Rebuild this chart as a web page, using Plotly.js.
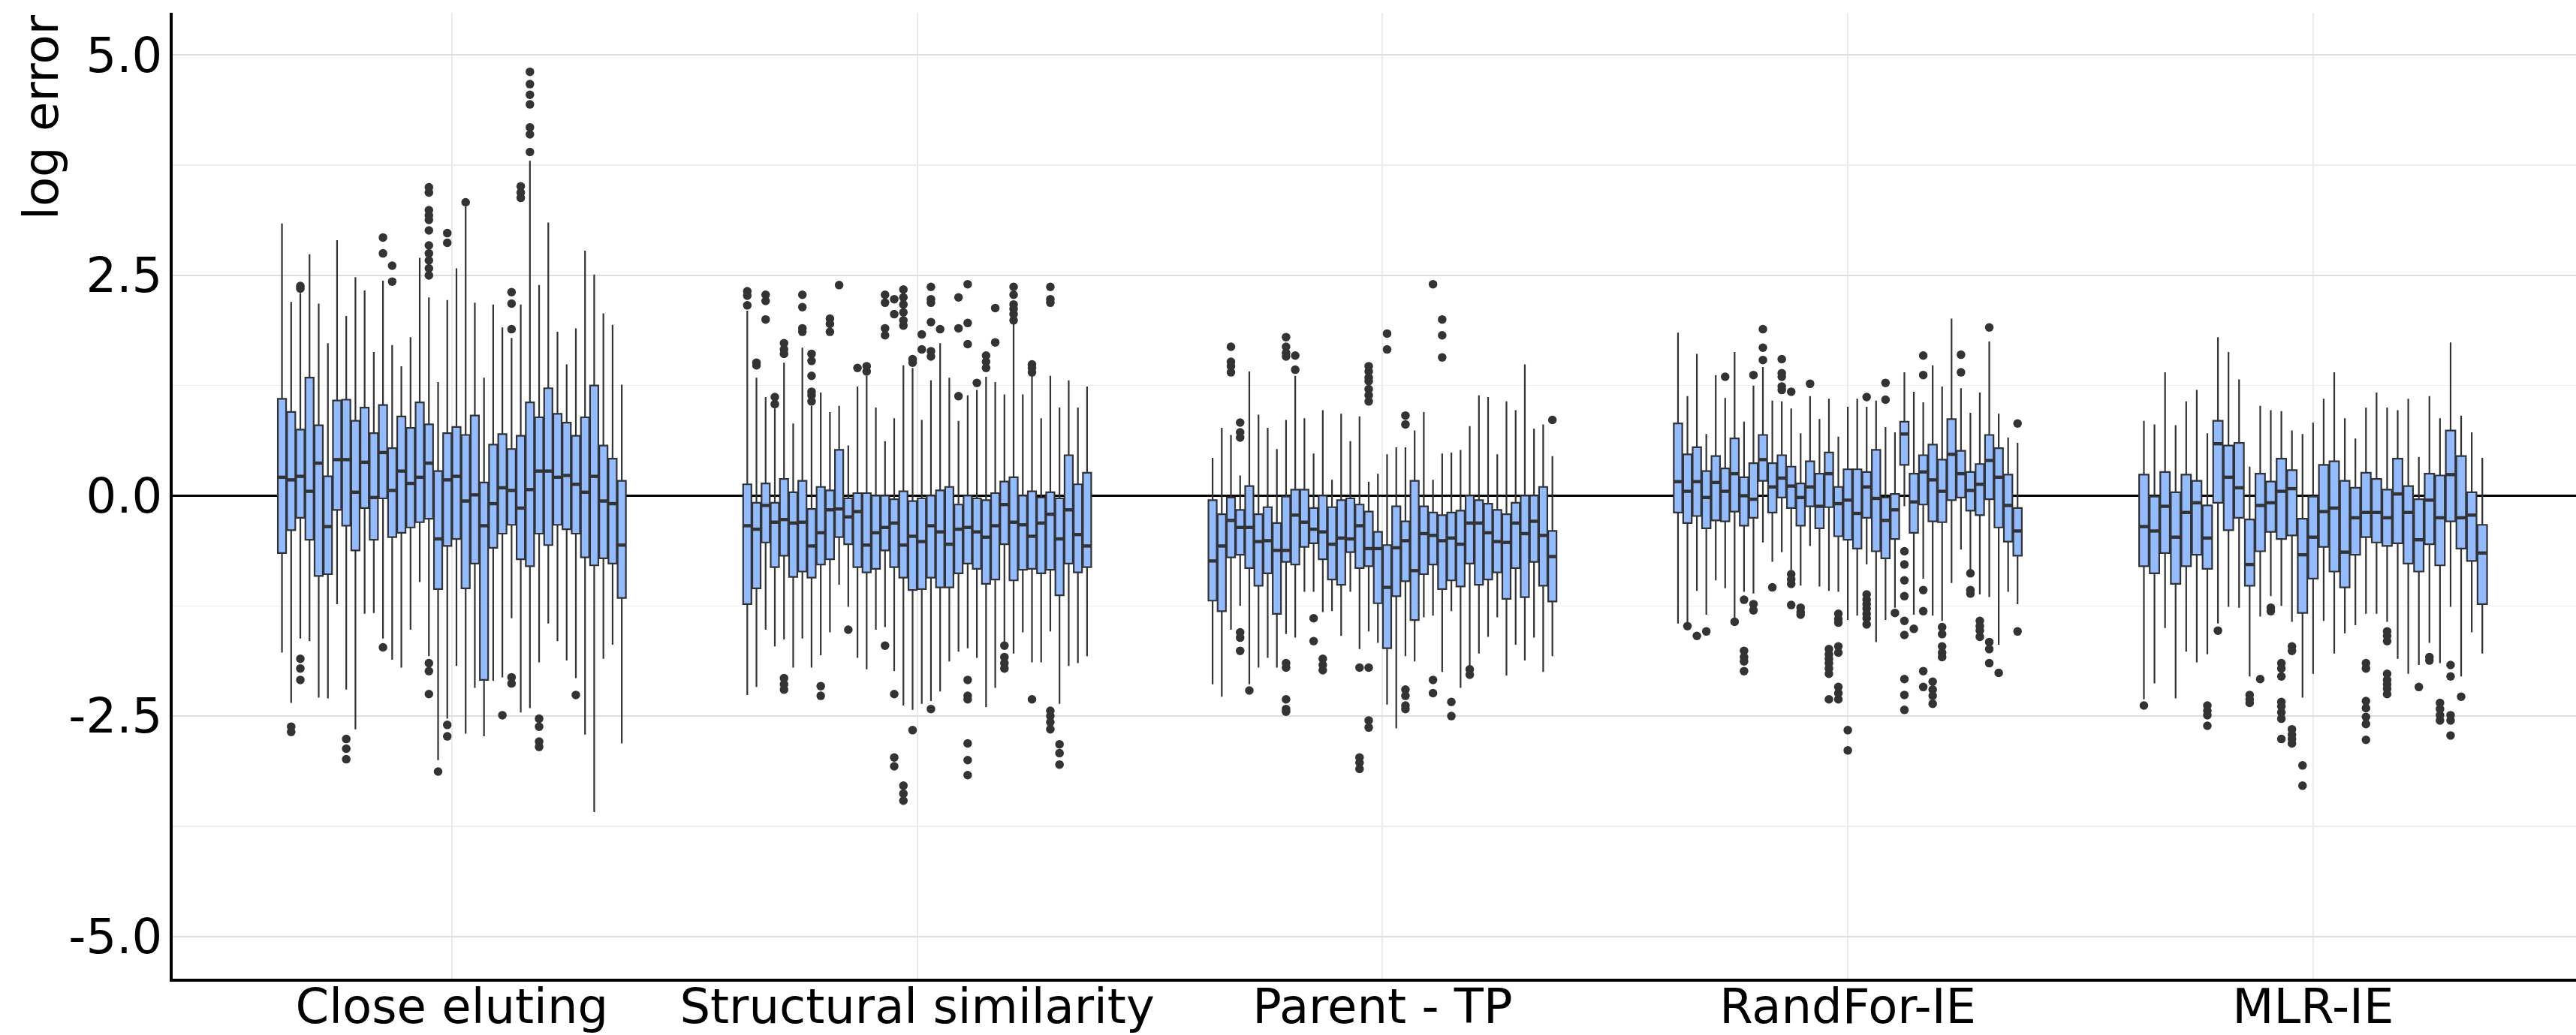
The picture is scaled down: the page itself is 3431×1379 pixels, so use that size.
<!DOCTYPE html>
<html>
<head>
<meta charset="utf-8">
<script src="https://cdn.plot.ly/plotly-3.0.1.min.js"></script>
<style>
  html, body { margin: 0; padding: 0; background: #ffffff; }
  #chart { width: 3431px; height: 1379px; }
</style>
</head>
<body>
<div id="chart"></div>
<script>
// ---------- DATA ----------
const categories = ["Close eluting", "Structural similarity", "Parent - TP", "RandFor-IE", "MLR-IE"];
const yTickValues = [-5, -2.5, 0, 2.5, 5];
const yTickLabels = ["-5.0", "-2.5", "0.0", "2.5", "5.0"];

// Close eluting (38 boxes)
const closeUpper  = [3.09,2.20,2.30,2.74,2.18,1.73,2.90,2.04,2.48,2.33,1.63,2.44,1.71,1.47,1.80,2.70,2.25,1.29,2.22,2.58,3.28,2.19,1.34,2.17,1.91,1.79,2.17,3.80,2.39,3.10,1.86,1.49,1.90,2.78,2.51,2.07,1.94,1.26];
const closeQ3     = [1.10,0.95,0.75,1.34,0.80,0.22,1.08,1.09,0.85,1.00,0.71,1.03,0.54,0.90,0.77,1.06,0.81,0.28,0.71,0.78,0.69,0.91,0.15,0.58,0.70,0.53,0.68,1.06,0.89,1.22,0.93,0.83,0.68,0.89,1.25,0.57,0.42,0.17];
const closeMedian = [0.21,0.18,0.22,0.05,0.37,-0.35,0.41,0.41,0.04,0.38,-0.02,0.49,0.06,0.28,0.14,0.21,0.37,-0.49,0.18,0.22,-0.06,0.01,-0.34,-0.09,0.09,0.06,-0.14,0.07,0.28,0.28,0.21,0.23,0.13,0.04,0.22,-0.06,-0.09,-0.56];
const closeQ1     = [-0.65,-0.39,-0.25,-0.50,-0.91,-0.89,-0.16,-0.34,-0.62,-0.14,-0.50,-0.03,-0.47,-0.42,-0.36,-0.30,-0.26,-1.06,-0.57,-0.49,-1.05,-0.77,-2.09,-0.59,-0.43,-0.33,-0.72,-0.80,-0.43,-0.56,-0.33,-0.38,-0.43,-0.70,-0.79,-0.71,-0.77,-1.16];
const closeLower  = [-1.78,-2.35,-1.62,-1.65,-2.29,-2.30,-1.23,-2.20,-2.65,-1.34,-1.33,-1.62,-1.86,-1.95,-1.52,-0.98,-1.82,-3.00,-2.53,-1.93,-2.70,-2.18,-2.73,-2.10,-2.06,-1.39,-2.46,-2.41,-1.89,-1.45,-1.65,-1.87,-2.07,-2.71,-3.59,-1.85,-1.69,-2.81];
const closeOutliers = [
  [], [-2.62,-2.68], [2.35,2.38,-1.85,-1.96,-2.09], [], [], [], [], [-2.76,-2.87,-2.99], [], [],
  [], [2.93,2.75,-1.72], [2.61,2.43], [], [], [],
  [3.50,3.44,3.24,3.18,3.13,3.01,2.84,2.75,2.67,2.58,2.50,-1.90,-1.99,-2.25],
  [-3.13], [2.98,2.87,-2.60,-2.73], [], [3.33], [], [], [], [-2.49], [2.31,2.18,1.89,-2.06,-2.13],
  [3.51,3.44,3.38], [4.81,4.67,4.55,4.44,4.18,4.10,3.90], [-2.53,-2.62,-2.79,-2.85], [], [], [], [-2.26], [], [], [], [], []
];

// Structural similarity (38 boxes)
const structUpper  = [2.10,1.34,1.12,0.99,1.51,0.82,1.68,1.02,1.17,0.95,1.02,0.57,1.24,1.36,1.00,0.62,0.88,1.48,1.45,0.86,1.31,1.73,1.34,0.85,1.14,1.20,1.35,1.29,1.15,1.95,1.15,1.37,0.88,1.36,1.00,1.31,1.00,1.24];
const structQ3     = [0.13,-0.08,0.14,-0.08,0.19,0.04,0.17,-0.15,0.10,0.06,0.52,-0.03,0.03,0.03,0.00,0.00,-0.04,0.05,-0.06,-0.03,0.00,0.06,0.10,-0.10,0.00,-0.03,-0.05,0.03,0.16,0.21,0.00,0.05,-0.02,0.04,-0.03,0.46,0.13,0.26];
const structMedian = [-0.34,-0.38,-0.11,-0.30,-0.27,-0.31,-0.30,-0.57,-0.42,-0.16,-0.15,-0.24,-0.18,-0.56,-0.42,-0.36,-0.31,-0.56,-0.46,-0.52,-0.34,-0.41,-0.55,-0.38,-0.36,-0.41,-0.47,-0.34,-0.10,-0.30,-0.33,-0.46,-0.31,-0.21,-0.49,-0.16,-0.44,-0.57];
const structQ1     = [-1.23,-1.05,-0.53,-0.81,-0.68,-0.92,-0.86,-0.93,-0.78,-0.72,-0.47,-0.55,-0.81,-0.87,-0.83,-0.62,-0.81,-0.93,-1.07,-1.06,-0.93,-1.04,-1.04,-0.88,-0.77,-0.83,-1.00,-0.95,-0.55,-0.96,-0.84,-0.83,-0.88,-0.84,-1.13,-0.77,-0.87,-0.81];
const structLower  = [-2.26,-2.17,-1.52,-1.71,-1.63,-1.95,-1.62,-1.95,-1.81,-1.55,-1.01,-1.26,-1.84,-1.97,-1.52,-1.49,-1.99,-2.38,-2.43,-2.36,-2.33,-2.22,-1.88,-1.77,-1.73,-1.84,-2.40,-2.18,-1.67,-1.79,-1.55,-1.89,-1.89,-1.54,-2.36,-1.93,-1.90,-1.82];
const structOutliers = [
  [2.32,2.27,2.16], [1.51,1.48], [2.28,2.21,2.00], [1.12,1.04], [1.73,1.66,1.61,-2.07,-2.14,-2.20], [],
  [2.28,2.14,1.90,1.86], [1.61,1.53,1.36,1.18,1.14,1.07], [-2.16,-2.27], [2.01,1.95,1.86], [2.39], [-1.52],
  [1.45], [1.47,1.41], [], [2.28,2.19,1.90,1.82,-1.70], [2.23,2.06,-2.25,-2.97,-3.07],
  [2.34,2.25,2.17,2.08,1.99,1.93,-3.29,-3.38,-3.46], [1.55,1.51,-2.66], [1.83,1.66],
  [2.37,2.23,2.19,1.97,1.64,1.58,-2.42], [1.89], [], [2.25,1.90,1.13],
  [2.40,1.96,1.72,-2.09,-2.27,-2.31,-2.81,-3.00,-3.17], [1.28], [1.59,1.52,1.45], [2.13,1.74],
  [-1.70,-1.83,-1.90,-1.96], [2.37,2.28,2.17,2.12,2.06,1.99], [], [1.49,1.45,1.40,-2.31], [],
  [2.37,2.23,2.19,-2.44,-2.50,-2.57,-2.65], [-2.82,-2.92,-3.05], [], [], []
];

// Parent - TP (38 boxes)
const parentUpper  = [0.43,0.77,0.69,0.23,1.41,0.92,0.77,0.53,0.86,1.36,0.88,0.48,0.97,0.18,0.93,0.62,0.90,0.16,0.25,0.47,0.55,0.55,0.74,0.95,0.18,0.48,0.49,0.52,0.79,1.14,1.12,0.47,1.07,0.97,1.49,0.76,0.81,0.45];
const parentQ3     = [-0.05,-0.21,-0.02,-0.16,0.11,-0.21,-0.13,-0.31,-0.01,0.07,0.07,-0.14,0.00,-0.13,-0.05,-0.03,-0.10,-0.18,-0.41,-0.56,-0.12,-0.29,0.17,-0.12,-0.19,-0.22,-0.19,-0.17,0.00,-0.05,-0.09,-0.16,-0.21,-0.08,0.00,0.00,0.10,-0.40];
const parentMedian = [-0.74,-0.57,-0.28,-0.36,-0.36,-0.52,-0.51,-0.62,-0.62,-0.22,-0.30,-0.38,-0.41,-0.55,-0.48,-0.49,-0.34,-0.60,-0.60,-1.04,-0.59,-0.51,-0.85,-0.43,-0.45,-0.51,-0.48,-0.55,-0.31,-0.31,-0.42,-0.52,-0.53,-0.31,-0.43,-0.29,-0.45,-0.69];
const parentQ1     = [-1.19,-1.31,-0.70,-0.67,-0.82,-1.02,-0.88,-1.34,-0.75,-0.78,-0.58,-0.54,-0.72,-0.95,-1.01,-0.64,-0.82,-0.80,-1.22,-1.73,-1.14,-0.97,-1.41,-0.89,-0.78,-1.06,-0.96,-1.03,-0.77,-1.01,-0.95,-0.87,-1.17,-0.82,-1.15,-0.75,-1.02,-1.20];
const parentLower  = [-2.14,-2.28,-1.52,-1.25,-2.14,-1.95,-1.84,-1.95,-1.57,-1.61,-1.09,-1.09,-1.32,-1.31,-1.59,-1.09,-1.74,-1.54,-1.67,-2.37,-2.64,-1.82,-1.88,-1.38,-1.36,-2.00,-1.31,-2.18,-1.93,-1.79,-1.60,-1.38,-2.04,-1.69,-1.87,-1.61,-2.00,-1.82];
const parentOutliers = [
  [], [], [1.69,1.52,1.47,1.40], [0.83,0.72,0.66,-1.55,-1.61,-1.76], [-2.21], [], [], [],
  [1.80,1.69,1.62,1.58,-1.90,-1.95,-2.31,-2.42,-2.45], [1.59,1.43], [], [-1.39,-1.65], [-1.85,-1.92,-1.98], [], [], [],
  [-1.95,-2.97,-3.03,-3.10], [1.47,1.41,1.34,1.30,1.21,1.14,1.07,-1.95,-2.55,-2.63], [], [1.84,1.66], [],
  [0.91,0.81,-2.20,-2.27,-2.38,-2.42], [], [], [2.40,-2.09,-2.24], [2.00,1.82,1.57], [-2.34,-2.50], [],
  [-1.97,-2.03], [], [], [], [], [], [], [], [], [0.86]
];

// RandFor-IE (37 boxes)
const randUpper  = [1.85,1.13,1.61,0.70,1.37,1.11,1.63,0.84,1.25,1.46,1.08,1.07,0.99,0.71,1.13,0.87,1.10,0.67,1.01,1.10,1.01,1.08,0.78,0.72,1.40,1.18,1.06,1.48,1.24,2.01,1.22,0.94,1.17,1.75,0.93,0.66,0.60];
const randQ3     = [0.82,0.47,0.55,0.28,0.45,0.31,0.65,0.21,0.37,0.69,0.37,0.46,0.33,0.14,0.39,0.25,0.49,0.10,0.30,0.30,0.27,0.52,-0.02,0.02,0.84,0.25,0.46,0.58,0.41,0.87,0.51,0.27,0.36,0.69,0.54,0.24,-0.14];
const randMedian = [0.16,0.05,0.16,-0.02,0.15,0.05,0.25,0.00,-0.04,0.41,0.10,0.20,0.11,-0.02,0.10,-0.12,0.25,-0.09,-0.05,-0.20,0.10,-0.03,-0.28,-0.16,0.70,-0.07,0.27,0.18,0.05,0.47,0.25,0.06,0.13,0.40,0.21,-0.11,-0.40];
const randQ1     = [-0.19,-0.31,-0.23,-0.37,-0.28,-0.29,-0.18,-0.34,-0.25,0.17,-0.19,-0.02,-0.14,-0.34,-0.12,-0.37,-0.13,-0.46,-0.50,-0.60,-0.25,-0.63,-0.71,-0.49,0.35,-0.42,-0.10,-0.29,-0.30,-0.05,-0.02,-0.17,-0.22,-0.04,-0.36,-0.52,-0.68];
const randLower  = [-1.45,-1.45,-1.08,-1.35,-0.96,-1.05,-1.40,-1.09,-1.11,-0.53,-0.75,-0.64,-0.84,-1.02,-0.57,-1.03,-1.08,-1.09,-1.41,-1.36,-0.78,-1.66,-1.41,-1.27,-0.12,-1.35,-0.94,-1.36,-1.42,-0.99,-0.61,-0.85,-1.12,-1.15,-1.69,-1.09,-1.23];
const randOutliers = [
  [], [-1.48], [-1.59], [-1.54], [], [1.35], [-1.43], [-1.18,-1.76,-1.83,-1.88,-1.99], [1.37,-1.23,-1.30],
  [1.89,1.68,1.54], [-1.04], [1.55,1.39,1.35,1.24,1.20], [1.18,-0.89,-0.95,-1.00,-1.24], [-1.27,-1.32,-1.35],
  [1.27], [], [-1.74,-1.80,-1.85,-1.90,-1.96,-2.02,-2.31], [-1.34,-1.40,-1.44,-1.71,-1.78,-2.17,-2.24,-2.31],
  [-2.66,-2.89], [], [1.12,-1.12,-1.18,-1.23,-1.28,-1.34,-1.39,-1.46], [], [1.28,1.09], [-1.33],
  [-0.63,-0.78,-0.96,-1.14,-1.42,-1.58,-2.08,-2.26,-2.43], [-1.51], [1.59,1.37,-1.07,-1.31,-1.99,-2.17],
  [-2.11,-2.20,-2.27,-2.36], [-1.49,-1.57,-1.71,-1.78,-1.83], [], [1.60,1.40], [-0.88,-1.07,-1.11],
  [-1.42,-1.48,-1.53,-1.60], [1.91,-1.66,-1.74,-1.90], [-2.01], [], [0.82,-1.54]
];

// MLR-IE (33 boxes)
const mlrUpper  = [0.85,0.81,1.40,0.80,1.07,1.20,0.71,1.80,1.63,1.32,0.33,1.02,0.97,0.96,0.74,0.70,0.83,1.10,1.40,0.88,0.65,1.00,1.17,1.00,0.97,1.10,0.44,1.13,0.88,1.74,0.91,0.72,0.43];
const mlrQ3     = [0.24,-0.01,0.27,0.04,0.24,0.17,-0.11,0.85,0.57,0.60,-0.27,0.25,0.16,0.42,0.29,-0.26,-0.01,0.35,0.39,0.17,0.09,0.26,0.19,0.07,0.42,0.11,-0.04,0.25,0.23,0.74,0.45,0.04,-0.33];
const mlrMedian = [-0.35,-0.40,-0.12,-0.47,-0.19,-0.08,-0.48,0.59,0.21,0.09,-0.78,-0.11,-0.08,0.05,0.08,-0.67,-0.47,-0.18,-0.14,-0.64,-0.25,-0.19,-0.19,-0.25,0.02,-0.19,-0.50,-0.05,-0.25,0.24,-0.25,-0.22,-0.65];
const mlrQ1     = [-0.80,-0.88,-0.65,-1.00,-0.80,-0.67,-0.83,-0.08,-0.39,-0.25,-1.02,-0.63,-0.41,-0.49,-0.45,-1.33,-0.94,-0.58,-0.86,-1.04,-0.67,-0.47,-0.53,-0.57,-0.54,-0.77,-0.86,-0.55,-0.79,-0.29,-0.60,-0.74,-1.23];
const mlrLower  = [-2.31,-2.13,-1.50,-2.30,-1.77,-1.89,-1.80,-1.45,-1.26,-1.27,-2.05,-1.37,-1.14,-1.25,-1.43,-2.29,-2.02,-1.42,-1.79,-1.56,-1.47,-1.34,-1.34,-1.43,-1.85,-2.02,-1.92,-1.67,-1.90,-1.26,-2.05,-1.55,-1.79];
const mlrOutliers = [
  [-2.38], [], [], [], [], [], [-2.38,-2.44,-2.49,-2.61], [-1.53], [], [], [-2.26,-2.31,-2.35], [-2.08],
  [-1.27,-1.31], [-1.90,-1.96,-2.05,-2.34,-2.39,-2.46,-2.53,-2.76], [-1.71,-1.76,-2.65,-2.71,-2.76,-2.81],
  [-3.06,-3.29], [], [], [], [], [], [-1.90,-1.96,-2.33,-2.41,-2.51,-2.59,-2.77], [],
  [-1.54,-1.59,-1.65,-2.02,-2.09,-2.14,-2.19,-2.25], [], [], [-2.17], [-1.83,-1.87], [-2.35,-2.42,-2.49,-2.55],
  [-1.92,-2.05,-2.49,-2.55,-2.72], [-2.28], [], []
];

// ---------- BUILD ----------
const groups = [
  {upper: closeUpper,  q3: closeQ3,  median: closeMedian,  q1: closeQ1,  lower: closeLower,  outliers: closeOutliers},
  {upper: structUpper, q3: structQ3, median: structMedian, q1: structQ1, lower: structLower, outliers: structOutliers},
  {upper: parentUpper, q3: parentQ3, median: parentMedian, q1: parentQ1, lower: parentLower, outliers: parentOutliers},
  {upper: randUpper,   q3: randQ3,   median: randMedian,   q1: randQ1,   lower: randLower,   outliers: randOutliers},
  {upper: mlrUpper,    q3: mlrQ3,    median: mlrMedian,    q1: mlrQ1,    lower: mlrLower,    outliers: mlrOutliers}
];

const DODGE = 0.75, PAD = 0.9;
const FILL = "#93BBFF", EDGE = "#333333";
const traces = [];
const outX = [], outY = [], medX = [], medY = [];

groups.forEach((g, gi) => {
  const n = g.median.length;
  const slot = DODGE / n;
  const w = slot * PAD;
  const xs = g.median.map((_, j) => gi + (j - (n - 1) / 2) * slot);
  traces.push({
    type: "box", orientation: "v",
    x: xs, q1: g.q1, median: g.median, q3: g.q3,
    lowerfence: g.lower, upperfence: g.upper,
    width: w, whiskerwidth: 0, boxpoints: false,
    fillcolor: FILL, line: {color: EDGE, width: 2.2},
    hoverinfo: "skip", showlegend: false
  });
  xs.forEach((x, j) => {
    medX.push(x - w / 2, x + w / 2, null);
    medY.push(g.median[j], g.median[j], null);
    g.outliers[j].forEach(v => { outX.push(x); outY.push(v); });
  });
});

traces.push({
  type: "scatter", mode: "lines", x: medX, y: medY,
  line: {color: EDGE, width: 4.4}, hoverinfo: "skip", showlegend: false
});
traces.push({
  type: "scatter", mode: "markers", x: outX, y: outY,
  marker: {color: EDGE, size: 11.5, line: {width: 0}}, hoverinfo: "skip", showlegend: false
});

const FONT = "DejaVu Sans, sans-serif";
const FS = 64;
const layout = {
  width: 3431, height: 1379,
  margin: {l: 230, r: 0, t: 17, b: 75, pad: 0},
  paper_bgcolor: "#ffffff", plot_bgcolor: "#ffffff",
  showlegend: false, boxmode: "overlay",
  font: {family: FONT, size: FS, color: "#000000"},
  xaxis: {
    range: [-0.6, 4.565], tickmode: "array",
    tickvals: categories.map((_, i) => i), ticktext: categories,
    showgrid: true, gridcolor: "#EBEBEB", gridwidth: 2,
    zeroline: false, showline: true, linecolor: "#000000", linewidth: 4,
    ticks: "", ticklabelstandoff: -22,
    tickfont: {family: FONT, size: FS, color: "#000000"}
  },
  yaxis: {
    range: [-5.48, 5.48], tickmode: "array",
    tickvals: yTickValues, ticktext: yTickLabels,
    showgrid: true, gridcolor: "#DEDEDE", gridwidth: 2,
    minor: {tickmode: "linear", tick0: 0, dtick: 1.25, showgrid: true, gridcolor: "#EEEEEE", gridwidth: 1.5, ticks: ""},
    zeroline: true, zerolinecolor: "#000000", zerolinewidth: 2.2,
    showline: true, linecolor: "#000000", linewidth: 4,
    ticks: "", ticklabelstandoff: -3,
    tickfont: {family: FONT, size: FS, color: "#000000"}
  },
  annotations: [{
    text: "log error", textangle: -90, showarrow: false,
    xref: "paper", yref: "paper", x: -0.0547, y: 1,
    xanchor: "center", yanchor: "top",
    font: {family: FONT, size: FS, color: "#000000"}
  }]
};

Plotly.newPlot("chart", traces, layout, {staticPlot: true, displayModeBar: false});
</script>
</body>
</html>
